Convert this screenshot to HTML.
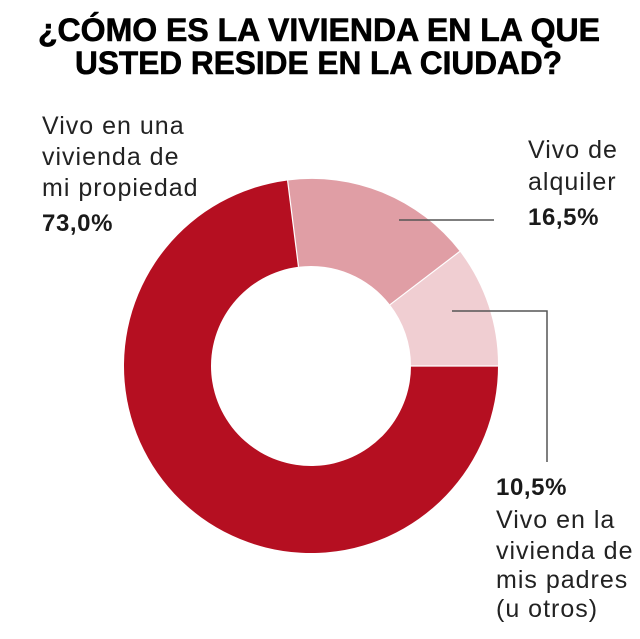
<!DOCTYPE html>
<html><head><meta charset="utf-8"><style>
html,body{margin:0;padding:0;background:#fff;}
svg{display:block;}
text{font-family:"Liberation Sans",sans-serif;fill:#1a1a1a;}
.t{font-weight:bold;font-size:32px;fill:#000;stroke:#000;stroke-width:0.6;}
.l{font-size:25px;letter-spacing:1px;fill:#222;}
.b{font-size:24px;font-weight:bold;letter-spacing:0.6px;}
</style></head><body>
<svg width="640" height="639" viewBox="0 0 640 639">
<text class="t" x="38" y="41" textLength="562" lengthAdjust="spacingAndGlyphs">¿CÓMO ES LA VIVIENDA EN LA QUE</text>
<text class="t" x="75" y="74" textLength="487" lengthAdjust="spacingAndGlyphs">USTED RESIDE EN LA CIUDAD?</text>

<path d="M498,366 A187,187 0 0 0 459.8,251.4 L390,304.7 A100,100 0 0 1 411,366 Z" fill="#f0ced2"/>
<path d="M459.8,251.4 A187,187 0 0 0 287.6,180.5 L298.5,266.8 A100,100 0 0 1 390,304.7 Z" fill="#e09ea5"/>
<path d="M287.6,180.5 A187,187 0 1 0 498,366 L411,366 A100,100 0 1 1 298.5,266.8 Z" fill="#b50f21"/>
<g stroke="#fff" stroke-width="1.2">
<line x1="459.8" y1="251.4" x2="390" y2="304.7"/>
<line x1="287.6" y1="180.5" x2="298.5" y2="266.8"/>
<line x1="498" y1="366" x2="411" y2="366"/>
</g>
<g stroke="#555" stroke-width="1.5" fill="none">
<line x1="399" y1="220" x2="494" y2="220"/>
<polyline points="452,311 547,311 547,462"/>
</g>

<text class="l" x="42" y="134">Vivo en una</text>
<text class="l" x="42" y="165">vivienda de</text>
<text class="l" x="42" y="196">mi propiedad</text>
<text class="b" x="42" y="231">73,0%</text>

<text class="l" x="528" y="158">Vivo de</text>
<text class="l" x="528" y="190">alquiler</text>
<text class="b" x="528" y="225">16,5%</text>

<text class="b" x="496" y="495">10,5%</text>
<text class="l" x="496" y="528">Vivo en la</text>
<text class="l" x="496" y="559">vivienda de</text>
<text class="l" x="496" y="588">mis padres</text>
<text class="l" x="496" y="617">(u otros)</text>
</svg>
</body></html>
